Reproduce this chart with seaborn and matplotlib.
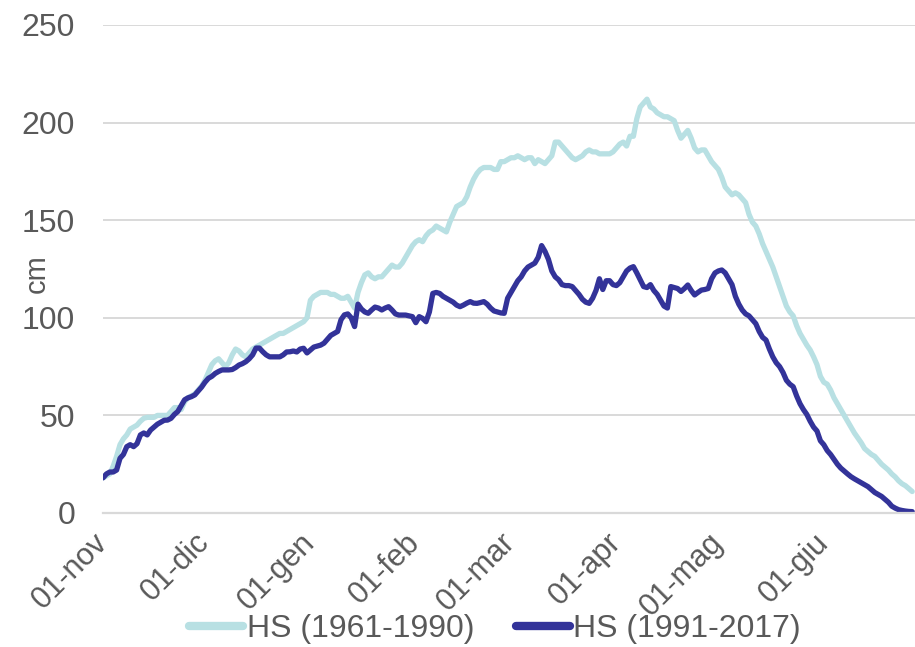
import numpy as np
import pandas as pd
import matplotlib
matplotlib.use("Agg")
import matplotlib.pyplot as plt
import seaborn as sns

# Altezza neve media giornaliera (cm), dal 1 novembre al 27 giugno
hs_1961_1990 = [
    18, 19, 20, 24, 29, 35, 38, 40, 43, 44,
    45, 47, 48.5, 49, 49, 49, 50, 50, 50, 50,
    52, 54, 54, 53, 57, 59, 60, 61, 63, 65,
    68, 72, 76, 78, 79, 77, 75, 77, 81, 84,
    83, 81, 80, 82, 84, 85, 86, 87, 88, 89,
    90, 91, 92, 92, 93, 94, 95, 96, 97, 98,
    100, 109, 111, 112, 113, 113, 113, 112, 112, 111,
    110, 110, 111, 108, 105, 113, 118, 122, 123, 121,
    120, 121, 121, 123, 125, 127, 126, 126, 128, 131,
    134, 137, 139, 140, 139, 142, 144, 145, 147, 146,
    145, 144, 149, 153, 157, 158, 159, 162, 167, 171,
    174, 176, 177, 177, 177, 176, 176, 180, 180, 181,
    182, 182, 183, 182, 181, 182, 182, 179, 181, 180,
    179, 181, 183, 190, 190, 188, 186, 184, 182, 181,
    182, 183, 185, 186, 185, 185, 184, 184, 184, 184,
    185, 187, 189, 190, 188, 193, 193, 202, 208, 210,
    212, 208, 207, 205, 204, 203, 203, 202, 201, 196,
    192, 194, 196, 192, 187, 185, 186, 186, 183, 180,
    178, 176, 172, 167, 165, 163, 164, 163, 161, 159,
    153, 149, 147, 143, 138, 134, 130, 126, 121, 116,
    111, 106, 103, 101, 96, 92, 89, 86, 83.5, 80,
    76, 70, 67, 66, 63, 59, 56, 53, 50, 47,
    44, 41, 38.5, 36, 33, 31.5, 30, 29, 27, 25,
    23.5, 22, 20, 18.5, 16.5, 15, 14, 12.5, 11,
]

hs_1991_2017 = [
    18, 20, 21, 21, 22, 28, 30, 34, 35, 34,
    35.5, 40, 41, 40, 42.5, 44, 45.5, 46.5, 47.5, 47.6,
    48.5, 50.5, 52, 55, 58, 59, 59.6, 60.5, 62.5, 64.5,
    67, 69, 70, 71.5, 72.5, 73.3, 73.3, 73.3, 73.5, 74.5,
    75.8, 76.5, 77.5, 79, 81, 84.5, 84.5, 82.6, 81, 80,
    80, 80, 80, 81, 82.5, 82.6, 83, 82.5, 84, 84.4,
    82, 83.5, 85, 85.5, 86, 87, 89, 91, 92, 93,
    99, 101.5, 102, 100, 95.5, 107, 104.5, 103, 102.3, 104,
    105.5, 105, 104, 105, 105.7, 104, 102, 101.4, 101.4, 101.4,
    101, 100.6, 97.5, 100.6, 99.7, 98, 103, 112.5, 113, 112.5,
    111, 110, 109, 108, 106.5, 105.7, 106.5, 107.5, 108.3, 107.5,
    107.4, 107.8, 108.3, 107, 105, 103.5, 103, 102.5, 102.3, 110,
    113, 116, 119, 121, 124, 126, 127, 128, 131, 137,
    134, 130, 124, 121, 119.5, 117, 116.5, 116.5, 116, 114,
    112, 109.5, 108, 107.4, 110, 114, 120, 114.5, 119, 119,
    117, 116.5, 118, 121, 124, 125.5, 126.2, 123, 119.5, 116,
    115.5, 117, 114, 112, 109, 106, 105, 116, 115.5, 115,
    113.5, 115, 116.8, 114, 111.7, 113, 114.2, 114.5, 115, 120,
    123, 124, 124.5, 123, 120, 117, 111, 107, 104, 102,
    101, 99, 97, 93, 90, 88.6, 84, 80, 77, 75,
    72, 68, 66, 64.7, 60, 56, 53, 50.5, 47, 44,
    42, 37, 35, 32, 30, 27.5, 25, 23, 21.5, 20,
    18.6, 17.5, 16.5, 15.5, 14.5, 13.5, 12, 10.5, 9.5, 8.5,
    7, 5.5, 3.5, 2.5, 1.7, 1.3, 1, 0.8, 0.7,
]

series_names = ["HS (1961-1990)", "HS (1991-2017)"]
series_colors = ["#b8e0e3", "#333399"]
month_labels = ["01-nov", "01-dic", "01-gen", "01-feb",
                "01-mar", "01-apr", "01-mag", "01-giu"]

dates = pd.date_range("2017-11-01", periods=len(hs_1961_1990), freq="D")
wide = pd.DataFrame({
    "giorno": np.arange(len(dates)),
    series_names[0]: hs_1961_1990,
    series_names[1]: hs_1991_2017,
})
long = wide.melt(id_vars="giorno", var_name="serie", value_name="HS")

sns.set_theme(style="white")
plt.rcParams["font.family"] = ["Liberation Sans", "DejaVu Sans"]

text_gray = "#595959"
grid_gray = "#d9d9d9"

fig = plt.figure(figsize=(9.15, 6.47), dpi=100)
ax = fig.add_axes([103 / 915, 1 - 513 / 647, 1 - 103 / 915, (513 - 25) / 647])

sns.lineplot(data=long, x="giorno", y="HS", hue="serie",
             hue_order=series_names, palette=series_colors,
             linewidth=3.8, ax=ax, legend=True)

ax.set_xlim(0, (915 - 103) / 3.4)
ax.set_ylim(0, 250)
ax.set_yticks(np.arange(0, 251, 50))
ax.yaxis.grid(True, color=grid_gray, linewidth=1.4)
ax.xaxis.grid(False)
ax.set_axisbelow(True)

for side in ["top", "right", "left"]:
    ax.spines[side].set_visible(False)
ax.spines["bottom"].set_color(grid_gray)
ax.spines["bottom"].set_linewidth(1.6)

# Month boundaries on the category axis
tick_pos = [i for i, d in enumerate(dates) if d.day == 1]
ax.set_xticks(tick_pos)
ax.set_xticklabels(month_labels[:len(tick_pos)], rotation=45, ha="right",
                   va="center", rotation_mode="anchor")
ax.tick_params(axis="x", direction="out", length=8, width=1.6,
               color=grid_gray, labelcolor=text_gray, labelsize=22, pad=10)
ax.tick_params(axis="y", length=0, labelcolor=text_gray, labelsize=23, pad=20)

ax.set_xlabel("")
ax.set_ylabel("cm", color=text_gray, fontsize=21)
ax.yaxis.set_label_coords(-0.064, 0.49)

handles, labels = ax.get_legend_handles_labels()
ax.get_legend().remove()
leg = fig.legend(handles, labels, loc="center", bbox_to_anchor=(0.541, 0.028),
                 ncol=2, frameon=False, fontsize=23, handlelength=1.7,
                 handletextpad=0.1, columnspacing=1.3)
for line in leg.get_lines():
    line.set_linewidth(6)
for t in leg.get_texts():
    t.set_color(text_gray)

fig.savefig("out.png", dpi=100)
